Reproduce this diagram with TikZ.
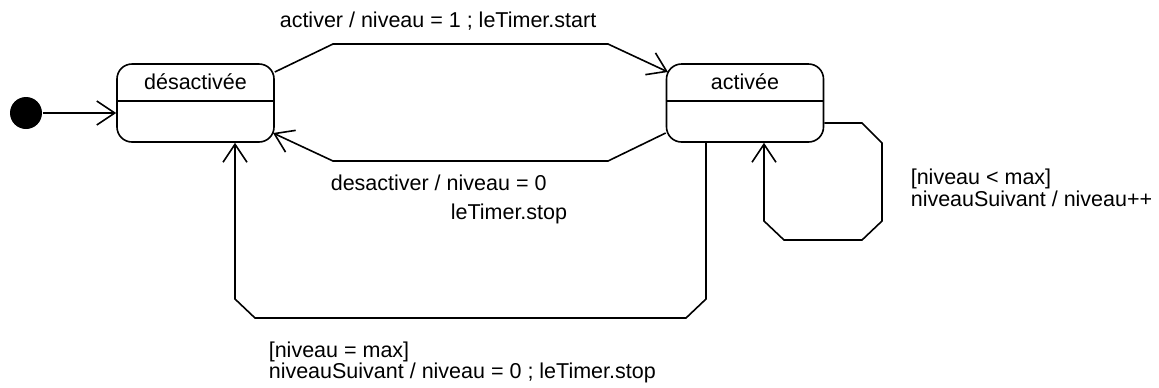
\documentclass[tikz,border=0pt]{standalone}
\usepackage{fontspec}
\setmainfont{Liberation Sans}
\usetikzlibrary{arrows.meta}
\begin{document}
\begin{tikzpicture}[x=0.5pt,y=-0.5pt, line width=0.8pt,
  state/.style={draw, rounded corners=7.5pt, minimum width=78.5pt, minimum height=39pt, inner sep=0},
  txt/.style={font=\fontsize{10.75}{13}\selectfont, inner sep=0},
  lbl/.style={txt, anchor=base west},
  tr/.style={-{Straight Barb[length=9pt,width=12pt]}}]
\useasboundingbox (0,0) rectangle (1159,387);
% states
\node[state] (d) at (195.5,103) {};
\node[txt, anchor=base] (dname) at (195.5,89) {désactivée};
\draw (d.west |- 0,101) -- (d.east |- 0,101);
\node[state] (a) at (745,103) {};
\node[txt, anchor=base] (aname) at (745,89) {activée};
\draw (a.west |- 0,101) -- (a.east |- 0,101);
% initial
\node[circle, fill, minimum size=16pt, inner sep=0] (init) at (26,113) {};
\draw[tr] (init.east) -- (init.east -| d.west);
% activer
\draw[tr] (d.east |- 0,72) -- (333,44) -- (608,44) -- (668,72);
\node[lbl] (l1) at (279,27) {activer / niveau = 1 ; leTimer.start};
% desactiver
\draw[tr] (a.west |- 0,133) -- (608,161) -- (333,161) -- (273,133);
\node[lbl] (l2) at (330,190) {desactiver / niveau = 0};
\node[lbl] (l3) at (450,219) {leTimer.stop};
% self loop
\draw[tr] (a.east |- 0,123) -- (862,123) -- (882,143) -- (882,221) -- (862,240) -- (784,240) -- (764,221) -- (a.south -| 764,0);
\node[lbl] (l4) at (910,184) {[niveau < max]};
\node[lbl] (l5) at (910,206) {niveauSuivant / niveau++};
% back
\draw[tr] (a.south -| 706,0) -- (706,299) -- (686,318) -- (255,318) -- (235,299) -- (d.south -| 235,0);
\node[lbl] (l6) at (268,357) {[niveau = max]};
\node[lbl] (l7) at (268,378) {niveauSuivant / niveau = 0 ; leTimer.stop};
\end{tikzpicture}
\end{document}
